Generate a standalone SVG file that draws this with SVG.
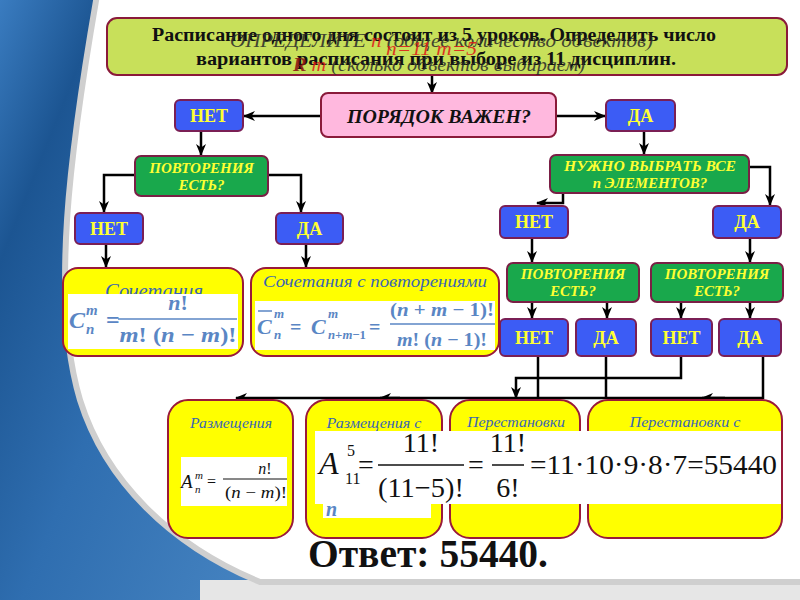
<svg xmlns="http://www.w3.org/2000/svg" width="800" height="600" viewBox="0 0 800 600">
<defs>
<linearGradient id="bg" x1="0" y1="0" x2="1" y2="0.3">
<stop offset="0" stop-color="#3a7cc0"/>
<stop offset="0.12" stop-color="#1c5592"/>
<stop offset="0.3" stop-color="#2f6eb0"/>
<stop offset="1" stop-color="#6aa6dc"/>
</linearGradient>
<marker id="ah" viewBox="0 0 12 10" refX="11" refY="5" markerWidth="12" markerHeight="10" markerUnits="userSpaceOnUse" orient="auto">
<path d="M0,0 L12,5 L0,10 L3.5,5 Z" fill="#000"/>
</marker>
<style>
.blue{fill:#3c5cf5;stroke:#7a1f55;stroke-width:2}
.green{fill:#19a84c;stroke:#7a1f45;stroke-width:2}
.yel{fill:#ffff00;stroke:#9a1a3a;stroke-width:2}
.wh{fill:#ffffff}
.lbl{font-family:"Liberation Serif","Times New Roman",serif;font-weight:bold;fill:#ffff33;font-size:18px;text-anchor:middle}
.q{font-family:"Liberation Serif","Times New Roman",serif;font-weight:bold;font-style:italic;fill:#ffff33;font-size:15px;text-anchor:middle}
.ttl{font-family:"Liberation Serif","Times New Roman",serif;font-style:italic;fill:#3a66b4;text-anchor:middle}
.fb{font-family:"Liberation Serif","Times New Roman",serif;font-weight:bold;font-style:italic;fill:#5a86c4}
.fbn{font-family:"Liberation Serif","Times New Roman",serif;font-weight:bold;fill:#5a86c4}
.fk{font-family:"Liberation Serif","Times New Roman",serif;fill:#111}
.fki{font-family:"Liberation Serif","Times New Roman",serif;font-style:italic;fill:#111}
.hd{font-family:"Liberation Serif","Times New Roman",serif;font-weight:bold;fill:#111;font-size:18px;text-anchor:middle}
.ov{font-family:"Liberation Serif","Times New Roman",serif;font-style:italic;fill:#2a2a2a;font-size:18px;opacity:0.85}
.red{fill:#e01818}
#connectors path{fill:none;stroke:#000;stroke-width:2.5}
</style>
</defs>

<!-- background -->
<rect x="0" y="0" width="800" height="600" fill="url(#bg)"/>
<rect x="200" y="580" width="600" height="20" fill="#e6e6e6"/>
<path d="M97 -5 L805 -5 L805 582 L260 582 C170 545 105 480 80 400 C50 300 70 150 97 -5 Z" fill="#ffffff" stroke="#cfcfcf" stroke-width="6"/>

<!-- connectors -->
<g id="connectors">
<path d="M432 75 V93" marker-end="url(#ah)"/>
<path d="M321 116 H244" marker-end="url(#ah)"/>
<path d="M556 116 H605" marker-end="url(#ah)"/>
<path d="M201 131 V155" marker-end="url(#ah)"/>
<path d="M644 131 V154" marker-end="url(#ah)"/>
<path d="M135 175 H104 V212" marker-end="url(#ah)"/>
<path d="M268 175 H301 V212" marker-end="url(#ah)"/>
<path d="M106 244 V267" marker-end="url(#ah)"/>
<path d="M306 244 V267" marker-end="url(#ah)"/>
<path d="M563 193 V203 H537" marker-end="url(#ah)"/>
<path d="M749 167 H770 V205" marker-end="url(#ah)"/>
<path d="M532 238 V262" marker-end="url(#ah)"/>
<path d="M750 238 V262" marker-end="url(#ah)"/>
<path d="M532 302 V318" marker-end="url(#ah)"/>
<path d="M607 302 V318" marker-end="url(#ah)"/>
<path d="M681 302 V318" marker-end="url(#ah)"/>
<path d="M750 302 V318" marker-end="url(#ah)"/>
<path d="M538 356 V398"/>
<path d="M606 356 V398"/>
<path d="M681 356 V378 H516 V398" marker-end="url(#ah)"/>
<path d="M763 356 V398 H236" marker-end="url(#ah)"/>
<path d="M725 398 H702" marker-end="url(#ah)"/>
<path d="M400 398 H380" marker-end="url(#ah)"/>
</g>

<!-- header -->
<g id="task">
<rect x="107" y="18" width="680" height="57" rx="10" fill="#c8e05a" stroke="#8a1a3a" stroke-width="2"/>
<text class="hd" x="434" y="41" textLength="564" lengthAdjust="spacingAndGlyphs">Расписание одного дня состоит из 5 уроков. Определить число</text>
<text class="ov" x="230" y="47" textLength="423" lengthAdjust="spacingAndGlyphs">ОПРЕДЕЛИТЕ <tspan class="red">n</tspan> (общее количество объектов)</text>
<text class="ov red" x="386" y="55" textLength="91" lengthAdjust="spacingAndGlyphs">n=11 m=5</text>
<text class="hd" x="436" y="65" textLength="480" lengthAdjust="spacingAndGlyphs">вариантов расписания при выборе из 11 дисциплин.</text>
<text class="ov" x="293" y="71" textLength="292" lengthAdjust="spacingAndGlyphs"><tspan fill="#8a1010" font-weight="bold">R</tspan><tspan class="red"> m</tspan> (сколько объектов выбираем)</text>
</g>

<g id="order">
<rect x="321" y="93" width="235" height="44" rx="7" fill="#ffb8de" stroke="#8a1a3a" stroke-width="2"/>
<text x="439" y="123" font-family="Liberation Serif, Times New Roman, serif" font-style="italic" font-weight="bold" font-size="18" fill="#111" text-anchor="middle" textLength="184" lengthAdjust="spacingAndGlyphs">ПОРЯДОК ВАЖЕН?</text>
</g>

<g id="no1"><rect class="blue" x="175" y="100" width="68" height="31" rx="5"/><text class="lbl" x="209" y="122">НЕТ</text></g>
<g id="yes1"><rect class="blue" x="606" y="100" width="69" height="31" rx="5"/><text class="lbl" x="640.5" y="122">ДА</text></g>

<g id="rep1">
<rect class="green" x="135" y="156" width="133" height="40" rx="6"/>
<text class="q" x="201.5" y="173">ПОВТОРЕНИЯ</text>
<text class="q" x="201.5" y="190">ЕСТЬ?</text>
</g>

<g id="all">
<rect class="green" x="550" y="155" width="199" height="38" rx="6"/>
<text class="q" x="650" y="171" textLength="172" lengthAdjust="spacingAndGlyphs">НУЖНО ВЫБРАТЬ ВСЕ</text>
<text class="q" x="650" y="188">n  ЭЛЕМЕНТОВ?</text>
</g>

<g id="no2"><rect class="blue" x="75" y="213" width="68" height="31" rx="5"/><text class="lbl" x="109" y="235">НЕТ</text></g>
<g id="yes2"><rect class="blue" x="276" y="213" width="67" height="31" rx="5"/><text class="lbl" x="309.5" y="235">ДА</text></g>
<g id="no3"><rect class="blue" x="500" y="206" width="68" height="32" rx="5"/><text class="lbl" x="534" y="228">НЕТ</text></g>
<g id="yes3"><rect class="blue" x="713" y="206" width="68" height="32" rx="5"/><text class="lbl" x="747" y="228">ДА</text></g>

<g id="rep2">
<rect class="green" x="507" y="263" width="132" height="39" rx="6"/>
<text class="q" x="573" y="279">ПОВТОРЕНИЯ</text>
<text class="q" x="573" y="296">ЕСТЬ?</text>
</g>
<g id="rep3">
<rect class="green" x="651" y="263" width="132" height="39" rx="6"/>
<text class="q" x="717" y="279">ПОВТОРЕНИЯ</text>
<text class="q" x="717" y="296">ЕСТЬ?</text>
</g>

<g id="no4"><rect class="blue" x="500" y="319" width="68" height="37" rx="5"/><text class="lbl" x="534" y="344">НЕТ</text></g>
<g id="yes4"><rect class="blue" x="576" y="319" width="60" height="37" rx="5"/><text class="lbl" x="606" y="344">ДА</text></g>
<g id="no5"><rect class="blue" x="651" y="319" width="61" height="37" rx="5"/><text class="lbl" x="681.5" y="344">НЕТ</text></g>
<g id="yes5"><rect class="blue" x="719" y="319" width="62" height="37" rx="5"/><text class="lbl" x="750" y="344">ДА</text></g>

<!-- combinations -->
<g id="comb">
<rect class="yel" x="63" y="268" width="180" height="88" rx="15"/>
<text class="ttl" x="154" y="298" style="font-size:21px" textLength="98" lengthAdjust="spacingAndGlyphs">Сочетания</text>
<rect class="wh" x="68" y="294" width="170" height="55"/>
<text class="fb" x="69" y="328" font-size="24">C</text>
<text class="fb" x="86" y="315" font-size="15">m</text>
<text class="fb" x="86" y="334" font-size="15">n</text>
<text class="fbn" x="106" y="328" font-size="24">=</text>
<text class="fb" x="178" y="310" font-size="22" text-anchor="middle">n<tspan font-style="normal">!</tspan></text>
<line x1="118" y1="319" x2="237" y2="319" stroke="#5a86c4" stroke-width="1.5"/>
<text class="fb" x="178" y="342" font-size="22" text-anchor="middle" textLength="117" lengthAdjust="spacingAndGlyphs">m<tspan font-style="normal">!</tspan> <tspan font-style="normal">(</tspan>n <tspan font-style="normal">−</tspan> m<tspan font-style="normal">)!</tspan></text>
</g>

<g id="combrep">
<rect class="yel" x="251" y="268" width="248" height="88" rx="15"/>
<text class="ttl" x="375" y="287" style="font-size:17px" textLength="224" lengthAdjust="spacingAndGlyphs">Сочетания с повторениями</text>
<rect class="wh" x="255" y="301" width="240" height="49"/>
<line x1="258" y1="311" x2="272" y2="311" stroke="#5a86c4" stroke-width="1.5"/>
<text class="fb" x="257" y="334" font-size="22">C</text>
<text class="fb" x="274" y="318" font-size="13">m</text>
<text class="fb" x="274" y="339" font-size="13">n</text>
<text class="fbn" x="290" y="334" font-size="20">=</text>
<text class="fb" x="311" y="334" font-size="22">C</text>
<text class="fb" x="328" y="318" font-size="13">m</text>
<text class="fb" x="328" y="339" font-size="13" textLength="38" lengthAdjust="spacingAndGlyphs">n<tspan font-style="normal">+</tspan>m<tspan font-style="normal">−1</tspan></text>
<text class="fbn" x="369" y="334" font-size="20">=</text>
<text class="fb" x="442" y="316" font-size="19" text-anchor="middle" textLength="104" lengthAdjust="spacingAndGlyphs"><tspan font-style="normal">(</tspan>n <tspan font-style="normal">+</tspan> m <tspan font-style="normal">− 1)!</tspan></text>
<line x1="390" y1="324" x2="495" y2="324" stroke="#5a86c4" stroke-width="1.5"/>
<text class="fb" x="442" y="346" font-size="19" text-anchor="middle" textLength="90" lengthAdjust="spacingAndGlyphs">m<tspan font-style="normal">! (</tspan>n <tspan font-style="normal">− 1)!</tspan></text>
</g>

<!-- bottom row -->
<g id="arr">
<rect class="yel" x="168" y="400" width="125" height="138" rx="20"/>
<text class="ttl" x="231" y="428" style="font-size:15px" textLength="82" lengthAdjust="spacingAndGlyphs">Размещения</text>
<rect class="wh" x="181" y="457" width="106" height="49"/>
<text class="fki" x="181" y="488" font-size="19">A</text>
<text class="fki" x="195" y="479" font-size="11">m</text>
<text class="fki" x="195" y="493" font-size="11">n</text>
<text class="fk" x="207" y="487" font-size="16">=</text>
<text class="fki" x="265" y="474" font-size="16" text-anchor="middle">n<tspan font-style="normal">!</tspan></text>
<line x1="223" y1="479" x2="287" y2="479" stroke="#111" stroke-width="1"/>
<text class="fki" x="256" y="498" font-size="16" text-anchor="middle" textLength="62" lengthAdjust="spacingAndGlyphs"><tspan font-style="normal">(</tspan>n <tspan font-style="normal">−</tspan> m<tspan font-style="normal">)!</tspan></text>
</g>

<g id="arrrep">
<rect class="yel" x="306" y="400" width="136" height="138" rx="20"/>
<text class="ttl" x="374" y="428" style="font-size:15px" textLength="95" lengthAdjust="spacingAndGlyphs">Размещения с</text>
<rect class="wh" x="323" y="500" width="108" height="18"/>
<text class="fb" x="326" y="516" font-size="20">n</text>
</g>

<g id="perm">
<rect class="yel" x="450" y="400" width="130" height="138" rx="20"/>
<text class="ttl" x="516" y="427" style="font-size:15px" textLength="98" lengthAdjust="spacingAndGlyphs">Перестановки</text>
</g>

<g id="permrep">
<rect class="yel" x="588" y="400" width="194" height="138" rx="20"/>
<text class="ttl" x="685" y="427" style="font-size:15px" textLength="111" lengthAdjust="spacingAndGlyphs">Перестановки с</text>
</g>

<!-- solution formula -->
<g id="solution">
<rect class="wh" x="315" y="431" width="466" height="73"/>
<text class="fki" x="319" y="474" font-size="32">A</text>
<text class="fk" x="347" y="456" font-size="16">5</text>
<text class="fk" x="345" y="484" font-size="16">11</text>
<text class="fk" x="358" y="474" font-size="28">=</text>
<text class="fk" x="421" y="452" font-size="28" text-anchor="middle">11!</text>
<line x1="378" y1="465" x2="464" y2="465" stroke="#111" stroke-width="1.5"/>
<text class="fk" x="421" y="497" font-size="28" text-anchor="middle" textLength="86" lengthAdjust="spacingAndGlyphs">(11−5)!</text>
<text class="fk" x="468" y="474" font-size="28">=</text>
<text class="fk" x="508" y="452" font-size="28" text-anchor="middle">11!</text>
<line x1="492" y1="465" x2="524" y2="465" stroke="#111" stroke-width="1.5"/>
<text class="fk" x="508" y="497" font-size="28" text-anchor="middle">6!</text>
<text class="fk" x="530" y="474" font-size="28" textLength="247" lengthAdjust="spacingAndGlyphs">=11·10·9·8·7=55440</text>
</g>

<g id="answer">
<text x="308" y="567" font-family="Liberation Serif, Times New Roman, serif" font-weight="bold" font-size="40" fill="#111" textLength="240" lengthAdjust="spacingAndGlyphs">Ответ: 55440.</text>
</g>
</svg>
